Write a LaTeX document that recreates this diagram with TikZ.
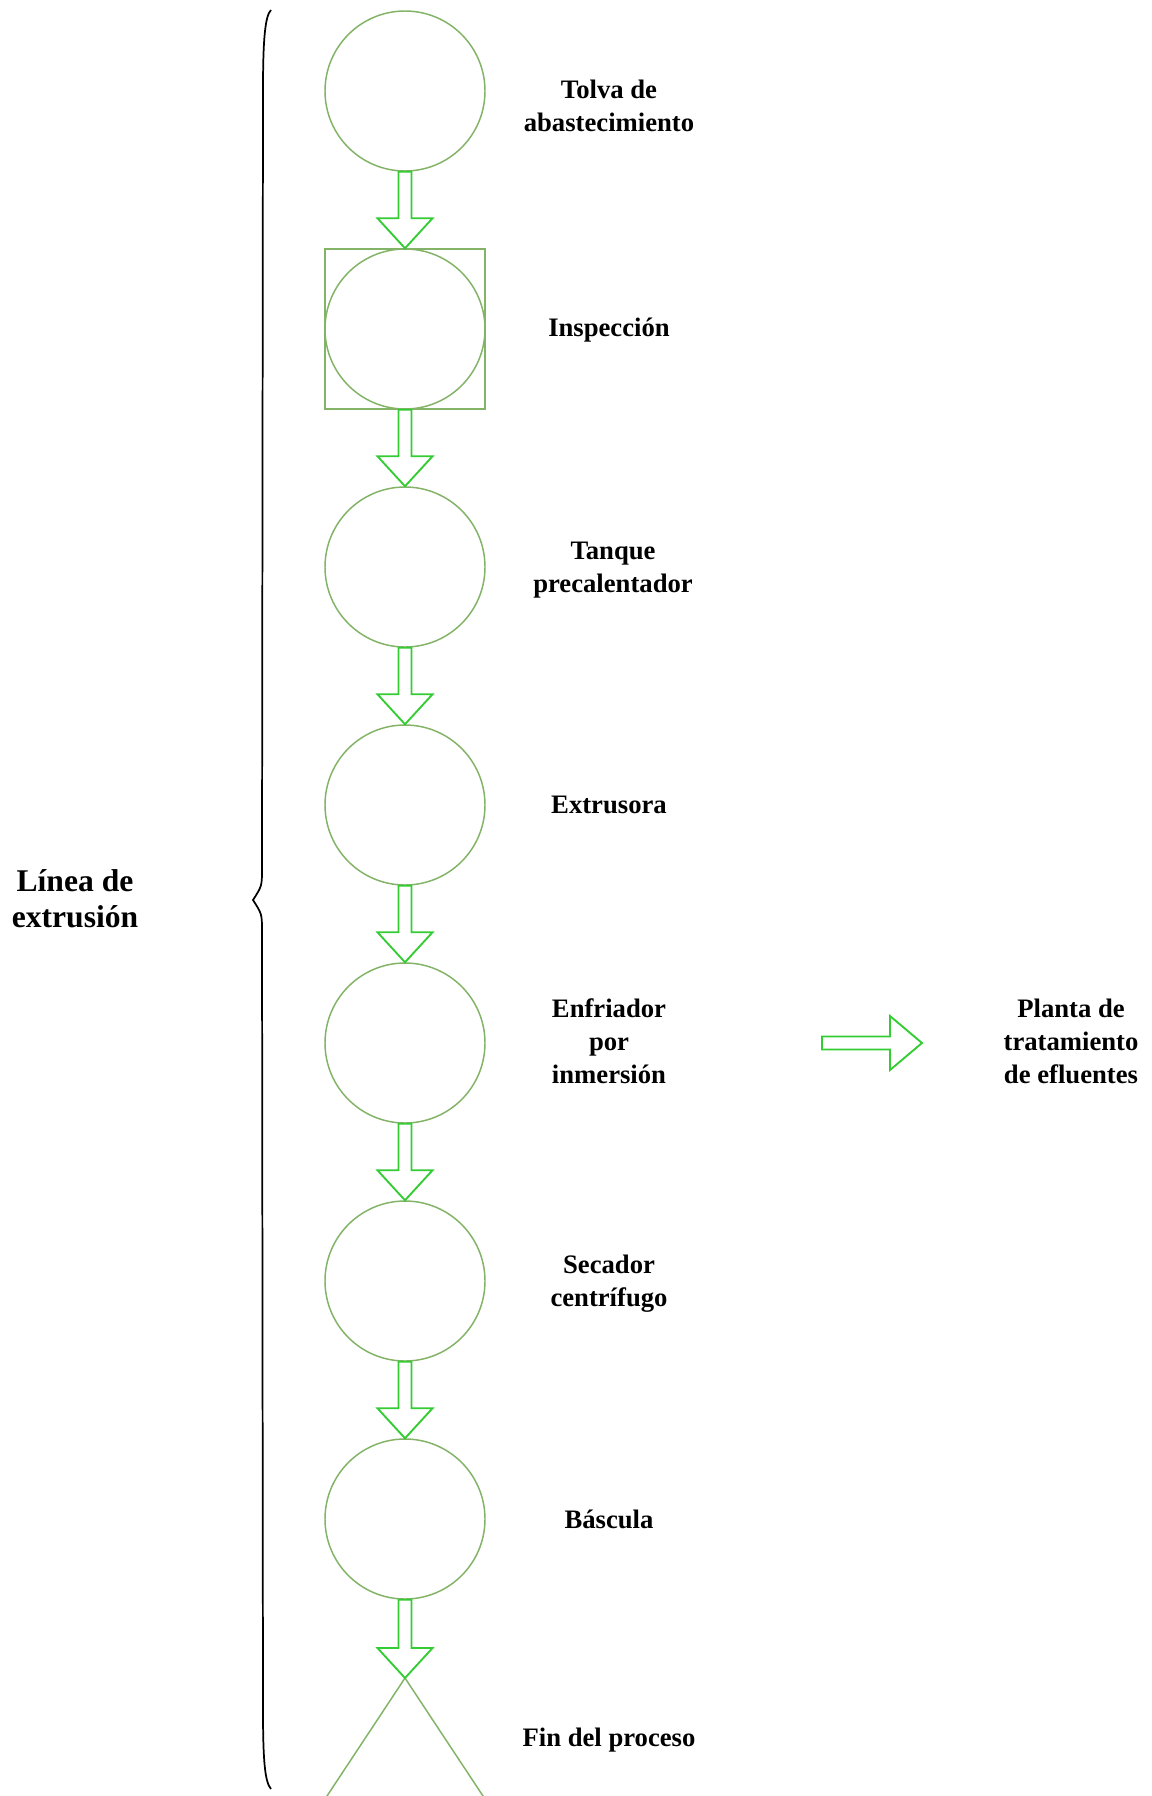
\documentclass[tikz,border=0pt]{standalone}
\usepackage{fontspec}
\setmainfont{Liberation Serif}
\usetikzlibrary{calc}
\definecolor{verdeC}{RGB}{130,179,102}
\definecolor{verdeF}{RGB}{51,204,51}
\tikzset{
	equipo/.style={circle, draw=verdeC, line width=1.1pt, minimum size=120pt, inner sep=0pt},
	control/.style={rectangle, draw=verdeC, line width=1.1pt, minimum size=120pt, inner sep=0pt},
	flecha/.style={draw=verdeF, line width=1.4pt, line join=miter},
	etiqueta/.style={align=center, font=\fontsize{20pt}{24.75pt}\selectfont\bfseries},
	titulo/.style={align=center, font=\fontsize{23.7pt}{27pt}\selectfont\bfseries}
}
% flecha hueca vertical: de #1 (arriba) a #2 (punta)
\newcommand{\flecha}[2]{%
	\draw[flecha] ($(#1)+(-6.5,0)$) -- ($(#2)+(-6.5,-30)$) -- ($(#2)+(-27.5,-30)$) -- (#2)
		-- ($(#2)+(27.5,-30)$) -- ($(#2)+(6.5,-30)$) -- ($(#1)+(6.5,0)$) -- cycle;}
\begin{document}
\begin{tikzpicture}[x=0.75pt, y=-0.75pt]
	\clip (0,0) rectangle (1152,1796);
	\fill[white] (0,0) rectangle (1152,1796);
	% Equipos
	\node[equipo] (tolva) at (405,91) {};
	\node[equipo] (insp) at (405,329) {};
	\node[control] (inspbox) at (405,329) {};
	\node[equipo] (tanque) at (405,567) {};
	\node[equipo] (extr) at (405,805) {};
	\node[equipo] (enfr) at (405,1043) {};
	\node[equipo] (secad) at (405,1281) {};
	\node[equipo] (bascula) at (405,1519) {};
	% Fin del proceso (triangulo)
	\coordinate (fin) at (405,1678);
	\draw[verdeC, line width=1.1pt] (fin) -- ++(-80,121);
	\draw[verdeC, line width=1.1pt] (fin) -- ++(80,121);
	% Etiquetas
	\node[etiqueta] (lTolva) at (609,106) {Tolva de\\abastecimiento};
	\node[etiqueta] (lInsp) at (609,330) {Inspección};
	\node[etiqueta] (lTanque) at (613,570) {Tanque\\precalentador};
	\node[etiqueta] (lExtr) at (609,805) {Extrusora};
	\node[etiqueta] (lEnfr) at (609,1041) {Enfriador\\por\\inmersión};
	\node[etiqueta] (lSecad) at (609,1284) {Secador\\centrífugo};
	\node[etiqueta] (lBascula) at (609,1519) {Báscula};
	\node[etiqueta] (lFin) at (609,1740) {Fin del proceso};
	\node[etiqueta] (lPlanta) at (1071,1041) {Planta de\\tratamiento\\de efluentes};
	\node[titulo] (lLinea) at (75,899) {Línea de\\extrusión};
	% Flechas
	\flecha{tolva.south}{inspbox.north}
	\flecha{inspbox.south}{tanque.north}
	\flecha{tanque.south}{extr.north}
	\flecha{extr.south}{enfr.north}
	\flecha{enfr.south}{secad.north}
	\flecha{secad.south}{bascula.north}
	\flecha{bascula.south}{fin}
	% Salida a la planta
	\coordinate (desc) at (822,1043);
	\coordinate (descFin) at (922,1043);
	\draw[flecha] ($(desc)+(0,-6.5)$) -- ($(descFin)+(-32,-6.5)$) -- ($(descFin)+(-32,-27)$) -- (descFin)
		-- ($(descFin)+(-32,27)$) -- ($(descFin)+(-32,6.5)$) -- ($(desc)+(0,6.5)$) -- cycle;
	% Llave
	\draw[black, line width=1.3pt] (271,10) .. controls (265,16) and (263,40) .. (263,90)
		-- (262,868) .. controls (262,886) .. (253,900) .. controls (262,914) .. (262,932)
		-- (263,1710) .. controls (263,1762) and (265,1782) .. (271,1789);
\end{tikzpicture}
\end{document}
